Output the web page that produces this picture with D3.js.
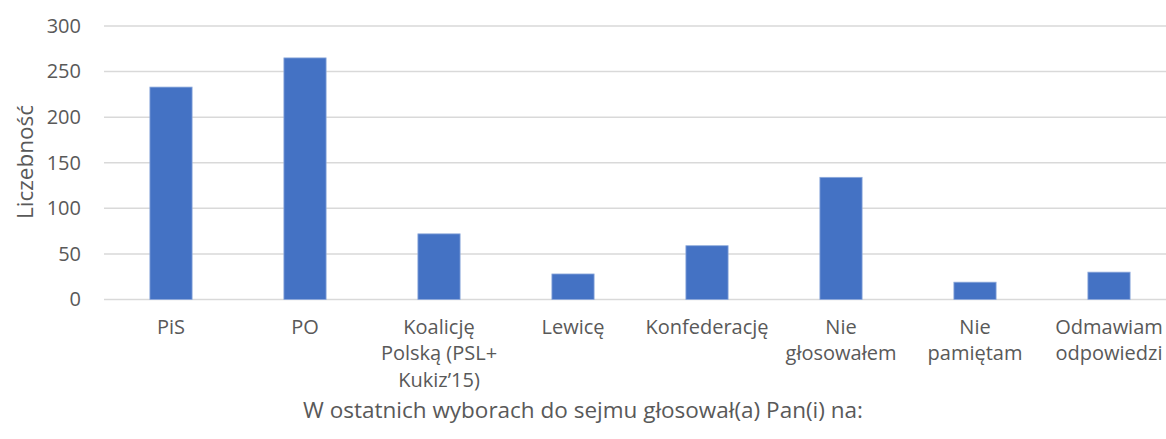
<!DOCTYPE html>
<html><head><meta charset="utf-8">
<script src="https://cdn.jsdelivr.net/npm/d3@7"></script>
<style>body{margin:0;background:#fff;} svg{display:block;}</style>
</head><body>
<svg id="chart" width="1166" height="439"></svg>
<script>
const categories = [
  ["PiS"],
  ["PO"],
  ["Koalicję", "Polską (PSL+", "Kukiz’15)"],
  ["Lewicę"],
  ["Konfederację"],
  ["Nie", "głosowałem"],
  ["Nie", "pamiętam"],
  ["Odmawiam", "odpowiedzi"]
];
const values = [233, 265, 72, 28, 59, 134, 19, 30];
const yTicks = [0, 50, 100, 150, 200, 250, 300];
const yTitle = "Liczebność";
const xTitle = "W ostatnich wyborach do sejmu głosował(a) Pan(i) na:";

const font = "'Open Sans', sans-serif";
const svg = d3.select("#chart");
const keys = categories.map((c, i) => i);
const x = d3.scaleBand().domain(keys).range([104, 1176]).paddingInner(0.685).paddingOuter(0.3425);
const y = d3.scaleLinear().domain([0, 300]).range([299.5, 26]);

// gridlines
svg.append("g").selectAll("line").data(yTicks).join("line")
  .attr("x1", 104).attr("x2", 1166)
  .attr("y1", d => y(d)).attr("y2", d => y(d))
  .attr("stroke", "#d9d9d9").attr("stroke-width", 1.5);

// y axis labels
const yAxis = d3.axisLeft(y).tickValues(yTicks).tickSize(0).tickPadding(0);
const gy = svg.append("g").attr("transform", "translate(81,0)").call(yAxis);
gy.select(".domain").remove();
gy.selectAll("text").attr("font-family", font).attr("font-size", 20).attr("fill", "#595959");

// bars
svg.append("g").selectAll("rect").data(values).join("rect")
  .attr("x", (d, i) => x(i)).attr("width", x.bandwidth())
  .attr("y", d => y(d)).attr("height", d => y(0) - y(d))
  .attr("fill", "#4472c4").attr("stroke", "#8eaadb").attr("stroke-width", 0.8);

// x labels
const xAxis = d3.axisBottom(x).tickSize(0).tickFormat(() => "");
const gx = svg.append("g").attr("transform", `translate(0,${y(0)})`).call(xAxis);
gx.select(".domain").remove();
gx.selectAll(".tick").each(function(d) {
  const t = d3.select(this).append("text")
    .attr("font-family", font).attr("font-size", 20).attr("fill", "#595959")
    .attr("text-anchor", "middle");
  categories[d].forEach((line, j) => {
    t.append("tspan").attr("x", 0).attr("y", 34 + j * 26.5).text(line);
  });
});

// axis titles
svg.append("text").attr("transform", "translate(33,162) rotate(-90)")
  .attr("text-anchor", "middle").attr("font-family", font).attr("font-size", 22.5)
  .attr("fill", "#595959").text(yTitle);
svg.append("text").attr("x", 583).attr("y", 418)
  .attr("text-anchor", "middle").attr("font-family", font).attr("font-size", 22.5)
  .attr("fill", "#595959").text(xTitle);
</script>
</body></html>
